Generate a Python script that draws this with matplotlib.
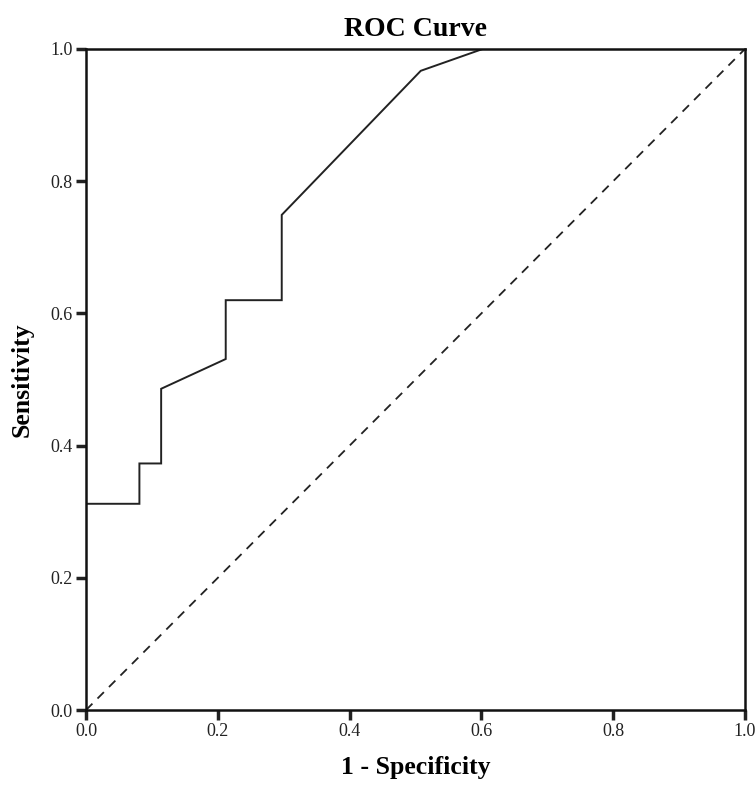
import matplotlib.pyplot as plt

# ROC curve points
fpr = [0.0, 0.081, 0.081, 0.114, 0.114, 0.212, 0.212, 0.297, 0.297, 0.508, 0.602, 1.0]
tpr = [0.312, 0.312, 0.373, 0.373, 0.486, 0.531, 0.620, 0.620, 0.749, 0.967, 1.0, 1.0]
ticks = [0.0, 0.2, 0.4, 0.6, 0.8, 1.0]

plt.rcParams['font.family'] = ['Liberation Serif', 'DejaVu Serif']

fig = plt.figure(figsize=(7.56, 7.85), dpi=100)
ax = fig.add_axes([0.1138, 0.0955, 0.8716, 0.8421])

ax.plot(fpr, tpr, color='#222222', lw=1.4, solid_joinstyle='miter')
ax.plot([0, 1], [0, 1], color='#222222', lw=1.3, ls=(0, (5, 4)))

ax.set_xlim(0, 1)
ax.set_ylim(0, 1)
ax.set_xticks(ticks)
ax.set_yticks(ticks)
ax.set_xticklabels([f'{t:.1f}' for t in ticks])
ax.set_yticklabels([f'{t:.1f}' for t in ticks])
ax.tick_params(direction='out', length=7.5, width=2.5, labelsize=13, pad=2, colors='#222222')
for s in ax.spines.values():
    s.set_linewidth(1.8)
    s.set_color('#111111')

ax.set_title('ROC Curve', fontsize=20, fontweight='bold', pad=9)
ax.set_xlabel('1 - Specificity', fontsize=18.5, fontweight='bold', labelpad=11)
ax.set_ylabel('Sensitivity', fontsize=18.5, fontweight='bold', labelpad=12)

fig.savefig('out.png', dpi=100)
